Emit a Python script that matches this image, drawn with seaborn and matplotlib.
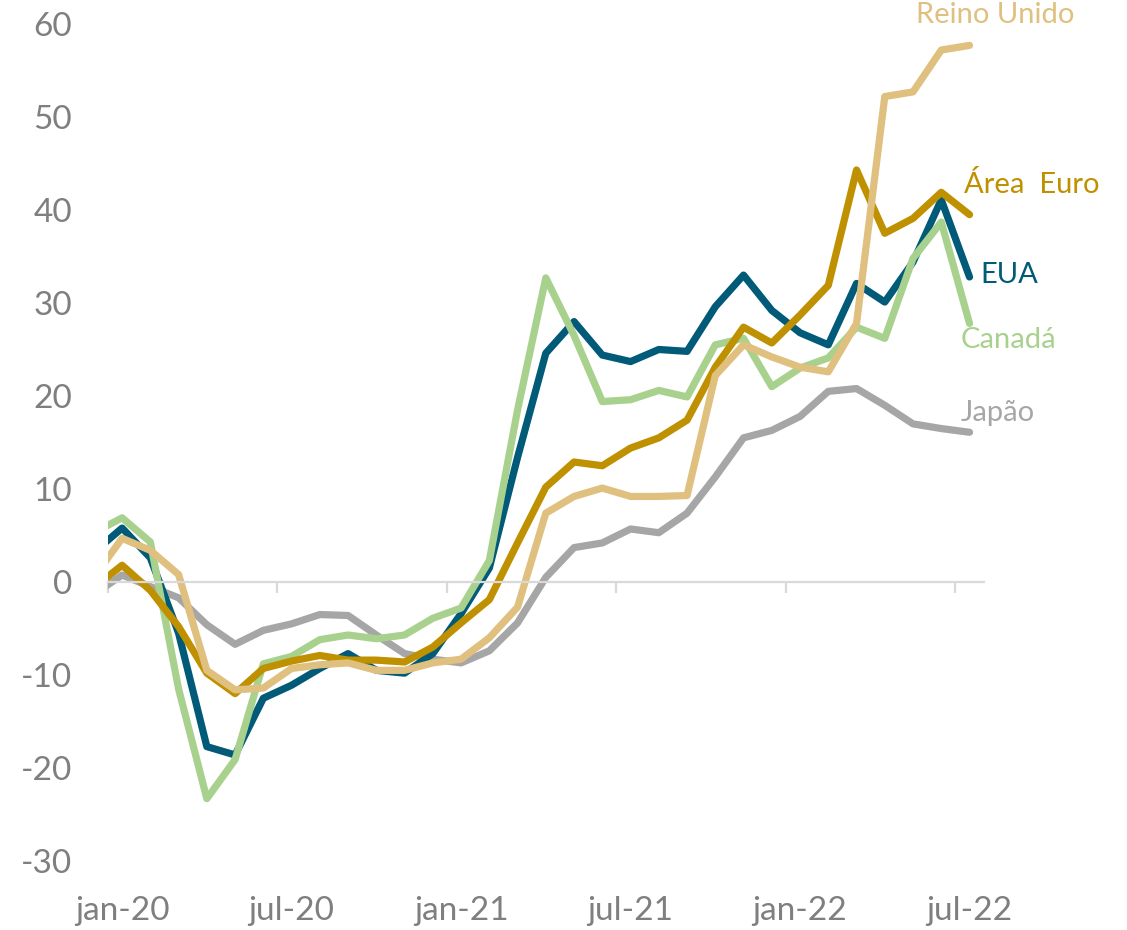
import numpy as np
import pandas as pd
import seaborn as sns
import matplotlib.pyplot as plt

# monthly values, dec-19 .. jul-22 (dec-19 only feeds the clipped start of each line)
meses = pd.period_range("2019-12", "2022-07", freq="M").strftime("%b-%y").tolist()
eua = [3.2, 5.8, 2.6, -5.5, -17.7, -18.6, -12.5, -11.1, -9.3, -7.7, -9.5, -9.8, -7.7, -3.4, 1.5, 13.4,
       24.6, 28.0, 24.4, 23.7, 25.0, 24.8, 29.6, 33.0, 29.2, 26.8, 25.5, 32.1, 30.1, 34.4, 41.1, 32.8]
canada = [5.3, 6.9, 4.3, -11.5, -23.3, -19.1, -8.8, -8.0, -6.2, -5.7, -6.1, -5.7, -3.9, -2.8, 2.3, 18.5,
          32.7, 26.5, 19.4, 19.6, 20.6, 19.9, 25.5, 26.2, 21.0, 23.0, 24.1, 27.4, 26.2, 34.8, 38.7, 27.8]
area_euro = [-0.6, 1.8, -0.9, -4.8, -9.8, -12.0, -9.3, -8.5, -7.9, -8.4, -8.4, -8.6, -7.0, -4.4, -1.9, 4.2,
             10.2, 12.9, 12.5, 14.4, 15.5, 17.4, 23.1, 27.4, 25.7, 28.7, 31.9, 44.3, 37.5, 39.1, 41.9, 39.5]
reino_unido = [0.5, 4.7, 3.4, 0.8, -9.5, -11.6, -11.4, -9.3, -8.9, -8.7, -9.5, -9.5, -8.7, -8.3, -6.0, -2.7,
               7.4, 9.2, 10.1, 9.2, 9.2, 9.3, 22.2, 25.5, 24.2, 23.1, 22.6, 27.8, 52.2, 52.7, 57.2, 57.7]
japao = [-1.35, 0.75, -0.5, -1.7, -4.6, -6.7, -5.2, -4.5, -3.5, -3.6, -5.7, -7.7, -8.3, -8.7, -7.4, -4.4,
         0.5, 3.7, 4.2, 5.7, 5.3, 7.4, 11.3, 15.5, 16.3, 17.8, 20.5, 20.8, 19.0, 17.0, 16.5, 16.1]

xtick_labels = ["jan-20", "jul-20", "jan-21", "jul-21", "jan-22", "jul-22"]
yticks = list(range(-30, 61, 10))

cores = {"Japão": "#a6a6a6", "EUA": "#005a78", "Canadá": "#a9d18e",
         "Área  Euro": "#bf9000", "Reino Unido": "#dfc07f"}
series = {"Japão": japao, "EUA": eua, "Canadá": canada,
          "Área  Euro": area_euro, "Reino Unido": reino_unido}

# points sit mid-month; month 0 = jan-20
pos = np.arange(len(meses)) - 0.5
df = pd.concat([pd.DataFrame({"x": pos, "mes": meses, "valor": v, "serie": k})
                for k, v in series.items()])

sns.set_style("white")
plt.rcParams["font.family"] = ["Lato", "DejaVu Sans"]

fig = plt.figure(figsize=(11.27, 9.30), dpi=100)
ax = fig.add_axes([0.0958, 0.0742, 0.777, 0.900])

sns.lineplot(data=df, x="x", y="valor", hue="serie", hue_order=list(series),
             palette=cores, linewidth=5.2, legend=False, ax=ax,
             solid_capstyle="round", solid_joinstyle="round")

ax.set_xlim(0, 31)
ax.set_ylim(-30, 60)
ax.set_xlabel("")
ax.set_ylabel("")

# zero line with tick marks
for s in ["top", "right", "left"]:
    ax.spines[s].set_visible(False)
ax.spines["bottom"].set_position(("data", 0))
ax.spines["bottom"].set_color("#d9d9d9")
ax.spines["bottom"].set_linewidth(1.6)
ax.set_xticks(np.arange(0, 31, 6))
ax.tick_params(axis="x", direction="out", length=8, width=1.6, color="#d9d9d9",
               labelbottom=False, bottom=True)
ax.set_yticks(yticks)
ax.set_yticklabels([str(t) for t in yticks])
ax.tick_params(axis="y", length=0, pad=26, labelsize=24, labelcolor="#7f7f7f")

# date labels at the bottom of the plot, centred on the month
sec = ax.secondary_xaxis("bottom")
sec.set_xticks(np.arange(0, 31, 6) + 0.5)
sec.set_xticklabels(xtick_labels)
sec.spines["bottom"].set_visible(False)
sec.tick_params(length=0, pad=25, labelsize=24, labelcolor="#7f7f7f")

# series labels at line ends
rotulos = {"Reino Unido": (28.6, 61.0), "Área  Euro": (30.3, 42.7), "EUA": (30.9, 33.0),
           "Canadá": (30.2, 26.0), "Japão": (30.2, 18.2)}
for nome, (lx, ly) in rotulos.items():
    ax.text(lx, ly, nome, color=cores[nome], fontsize=21, va="center", ha="left",
            clip_on=False)

fig.savefig("out.png", dpi=100)
